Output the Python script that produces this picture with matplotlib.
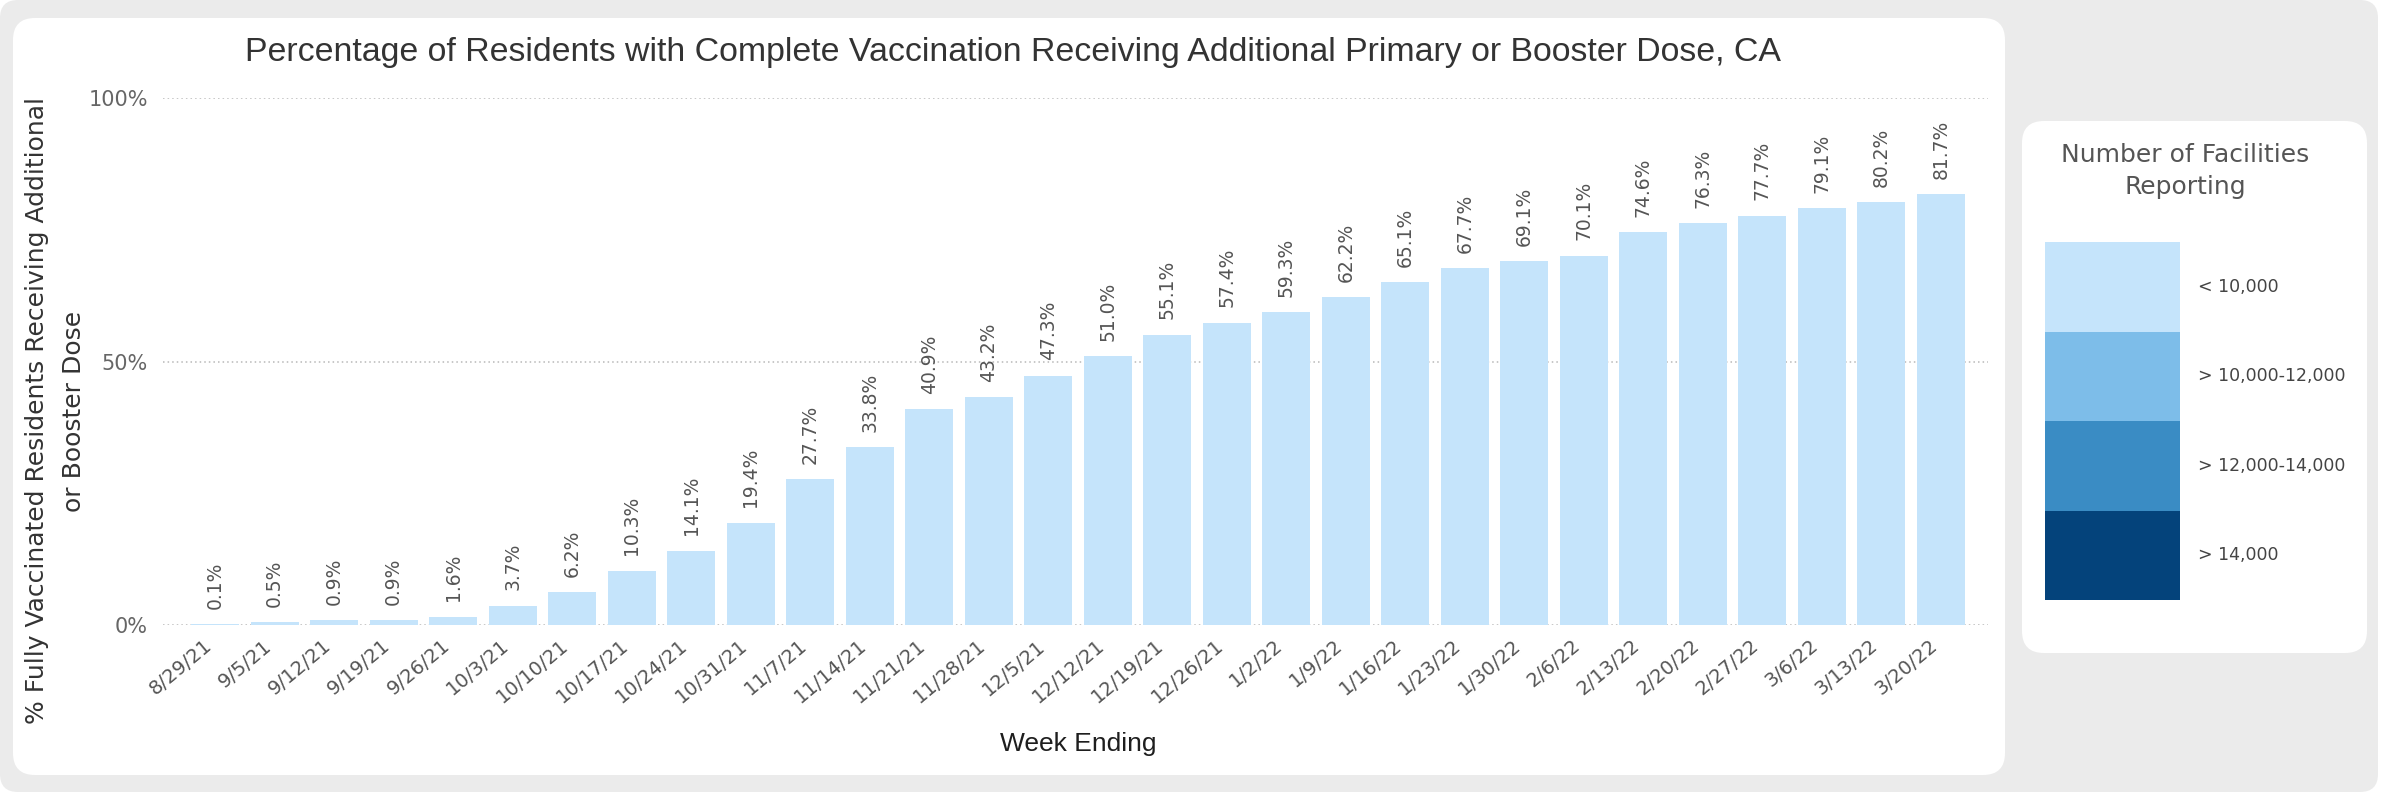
import numpy as np
import matplotlib
matplotlib.use("Agg")
import matplotlib.pyplot as plt
import matplotlib.transforms as mtransforms
from matplotlib.patches import FancyBboxPatch

# data
weeks = ['8/29/21', '9/5/21', '9/12/21', '9/19/21', '9/26/21', '10/3/21', '10/10/21',
         '10/17/21', '10/24/21', '10/31/21', '11/7/21', '11/14/21', '11/21/21', '11/28/21',
         '12/5/21', '12/12/21', '12/19/21', '12/26/21', '1/2/22', '1/9/22', '1/16/22',
         '1/23/22', '1/30/22', '2/6/22', '2/13/22', '2/20/22', '2/27/22', '3/6/22',
         '3/13/22', '3/20/22']
pct = [0.1, 0.5, 0.9, 0.9, 1.6, 3.7, 6.2, 10.3, 14.1, 19.4, 27.7, 33.8, 40.9, 43.2,
       47.3, 51.0, 55.1, 57.4, 59.3, 62.2, 65.1, 67.7, 69.1, 70.1, 74.6, 76.3, 77.7,
       79.1, 80.2, 81.7]
ytick_vals = [0, 50, 100]
ytick_labels = ['0%', '50%', '100%']

legend_labels = ['< 10,000', '> 10,000-12,000', '> 12,000-14,000', '> 14,000']
legend_colors = ['#c5e4fb', '#7dbde9', '#3a8cc4', '#04437b']

W, H = 2381, 794
fig = plt.figure(figsize=(W / 100, H / 100), dpi=100, facecolor='white')

# background panels (pixel coordinates)
bg = fig.add_axes([0, 0, 1, 1], zorder=-5)
bg.set_xlim(0, W)
bg.set_ylim(H, 0)
bg.axis('off')
bg.add_patch(FancyBboxPatch((0, 0), 2378, 792, boxstyle='round,pad=0,rounding_size=18',
                            fc='#ebebeb', ec='none'))
bg.add_patch(FancyBboxPatch((13, 18), 1992, 757, boxstyle='round,pad=0,rounding_size=22',
                            fc='white', ec='none'))
bg.add_patch(FancyBboxPatch((2022, 121), 345, 532, boxstyle='round,pad=0,rounding_size=22',
                            fc='white', ec='none'))

# main bar chart
ax = fig.add_axes([163 / W, 1 - 625 / H, (1988 - 163) / W, (625 - 98) / H])
ax.patch.set_alpha(0)
x = np.arange(len(weeks))
ax.bar(x, pct, width=0.806, color=legend_colors[0], zorder=2)
ax.set_xlim(-0.874, len(weeks) - 1 + 0.79)
ax.set_ylim(0, 100)
for s in ax.spines.values():
    s.set_visible(False)
ax.set_yticks(ytick_vals)
ax.set_yticklabels(ytick_labels, fontsize=15, color='#666666')
ax.yaxis.grid(True, linestyle=(0, (1, 2)), color='#b8b8b8', linewidth=1.1)
ax.set_axisbelow(True)
ax.tick_params(axis='y', length=0, pad=11)
ax.set_xticks(x)
ax.set_xticklabels(weeks, rotation=40, ha='right', va='top', rotation_mode='anchor',
                   fontsize=14, color='#555555')
ax.tick_params(axis='x', length=0, pad=8)
shift = mtransforms.ScaledTranslation(-0.12, 0, fig.dpi_scale_trans)
for lab in ax.get_xticklabels():
    lab.set_transform(lab.get_transform() + shift)

for i, v in enumerate(pct):
    ax.annotate(f'{v:.1f}%', (i, v), xytext=(0, 11), textcoords='offset points',
                rotation=90, ha='center', va='bottom', fontsize=13.5, color='#555555')

fig.text(1013 / W, 1 - 52 / H,
         'Percentage of Residents with Complete Vaccination Receiving Additional Primary or Booster Dose, CA',
         ha='center', va='center', fontsize=24.4, family='Liberation Sans', color='#333333')
fig.text(1078 / W, 1 - 744 / H, 'Week Ending', ha='center', va='center', fontsize=19,
         family='Liberation Sans', color='#1e1e1e')
fig.text(55.5 / W, 1 - 411 / H,
         '% Fully Vaccinated Residents Receiving Additional\nor Booster Dose',
         rotation=90, ha='center', va='center', multialignment='center',
         fontsize=18, linespacing=1.7, color='#333333')

# legend
lax = fig.add_axes([2045 / W, 1 - 600 / H, (2180 - 2045) / W, (600 - 242) / H])
lab_trans = mtransforms.blended_transform_factory(lax.transAxes, lax.transData)
for i, (lab, c) in enumerate(zip(legend_labels, legend_colors)):
    lax.bar(0, 1, bottom=i, width=1, color=c)
    lax.text(1.13, i + 0.5, lab, transform=lab_trans,
             ha='left', va='center', fontsize=12.5, color='#444444')
lax.set_xlim(-0.5, 0.5)
lax.set_ylim(len(legend_labels), 0)
lax.axis('off')

fig.text(2185 / W, 1 - 171 / H, 'Number of Facilities\nReporting', ha='center', va='center',
         fontsize=18, linespacing=1.45, color='#555555')

fig.savefig('out.png', dpi=100, facecolor=fig.get_facecolor())
